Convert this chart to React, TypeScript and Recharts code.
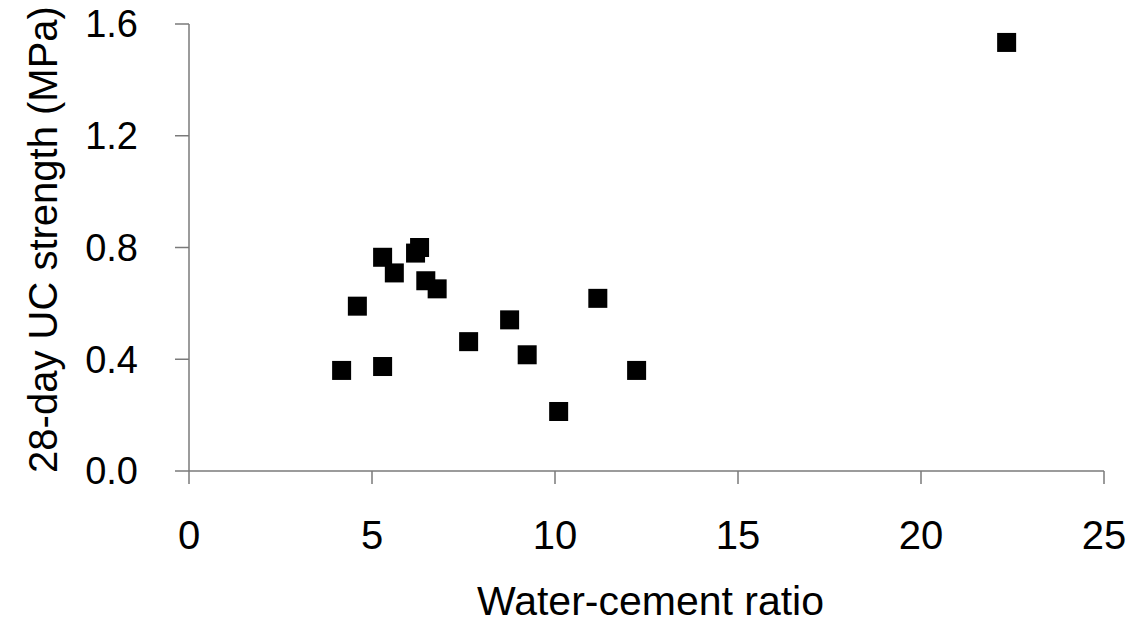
import { ScatterChart, Scatter, XAxis, YAxis } from "recharts";

// #region Sample data
const waterCementRatio = [
  4.17, 4.6, 5.29, 5.29, 5.61, 6.19, 6.3, 6.47, 6.78, 7.64, 8.76, 9.24, 10.1,
  11.17, 12.23, 22.34,
];
const ucStrength = [
  0.36, 0.59, 0.374, 0.765, 0.709, 0.78, 0.8, 0.681, 0.652, 0.463, 0.541,
  0.416, 0.213, 0.618, 0.36, 1.534,
];
const xTicks = [0, 5, 10, 15, 20, 25];
const yTicks = [0, 0.4, 0.8, 1.2, 1.6];
// #endregion

const data = waterCementRatio.map((x, i) => ({ x, y: ucStrength[i] }));

const FONT = "'Liberation Sans', Arial, sans-serif";
const AXIS_GREY = "#7a7a7a";

// filled square marker
const SquareDot = (props: { cx?: number; cy?: number }) => {
  const { cx = 0, cy = 0 } = props;
  return <rect x={cx - 9.5} y={cy - 9.5} width={19} height={19} fill="#000" />;
};

const XTitle = ({ viewBox }: any) => (
  <text
    x={viewBox.x + viewBox.width / 2 + 4}
    y={615}
    textAnchor="middle"
    fontFamily={FONT}
    fontSize={41}
    fill="#000"
  >
    Water-cement ratio
  </text>
);

const YTitle = ({ viewBox }: any) => {
  const cy = viewBox.y + viewBox.height / 2 - 8;
  return (
    <text
      x={57}
      y={cy}
      transform={`rotate(-90, 57, ${cy})`}
      textAnchor="middle"
      fontFamily={FONT}
      fontSize={40}
      fill="#000"
    >
      28-day UC strength (MPa)
    </text>
  );
};

const App = () => {
  return (
    <div style={{ position: "absolute", left: 0, top: 0, background: "#fff" }}>
      <ScatterChart
        width={1139}
        height={626}
        margin={{ top: 24, right: 35, bottom: 0, left: 0 }}
      >
        <XAxis
          type="number"
          dataKey="x"
          domain={[0, 25]}
          ticks={xTicks}
          height={155}
          tickSize={13}
          tickMargin={37}
          stroke={AXIS_GREY}
          strokeWidth={1.5}
          tick={{ fill: "#000", fontSize: 40, fontFamily: FONT }}
          label={<XTitle />}
        />
        <YAxis
          type="number"
          dataKey="y"
          domain={[0, 1.6]}
          ticks={yTicks}
          width={189}
          tickSize={14}
          tickMargin={37}
          stroke={AXIS_GREY}
          strokeWidth={1.5}
          tickFormatter={(v: number) => v.toFixed(1)}
          tick={{ fill: "#000", fontSize: 38, fontFamily: FONT }}
          label={<YTitle />}
        />
        <Scatter data={data} shape={<SquareDot />} isAnimationActive={false} />
      </ScatterChart>
    </div>
  );
};

export default App;
